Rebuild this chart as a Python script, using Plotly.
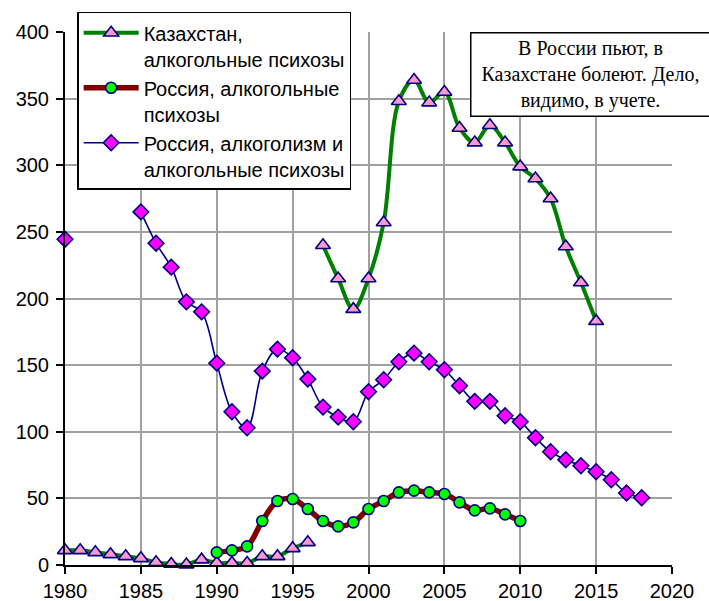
import plotly.graph_objects as go

# Kazakhstan, alcoholic psychoses (two separately reported periods)
kz_early_years = list(range(1980, 1997))
kz_early_vals = [11, 11, 9.5, 8, 6.5, 5, 2, 0.7, 0.3, 4, 1.5, 1.5, 1.5, 6.5, 6.5, 12.5, 17]
kz_late_years = list(range(1997, 2016))
kz_late_vals = [240, 215, 192, 215, 257, 348, 364, 347, 355, 328, 317, 330, 317,
                299, 290, 275, 239, 212, 183]

# Russia, alcoholic psychoses
ru_psy_years = list(range(1990, 2011))
ru_psy_vals = [9.5, 11, 14, 33, 48, 49.5, 42, 33, 29, 32, 42, 48, 54.5, 55.8, 54.5,
               53.3, 47, 41, 42.5, 38, 33]

# Russia, alcoholism and alcoholic psychoses
ru_all_years = list(range(1980, 2019))
ru_all_vals = [244.5, None, None, None, None, 265, 241.5, 223.5, 197.5, 190, 151.5,
               115, 103, 145.5, 162, 155.5, 139.5, 118.5, 111, 107.5, 130, 139, 152.5,
               159, 152.5, 146.5, 134.5, 122.8, 122.8, 112, 107.5, 95.5, 85, 79, 74.5,
               70, 64, 54, 50.5]

legend_names = [
    "Казахстан,<br>алкогольные психозы",
    "Россия, алкогольные<br>психозы",
    "Россия, алкоголизм и<br>алкогольные психозы",
]
note_text = "В России пьют, в<br>Казахстане болеют. Дело,<br>видимо, в учете."

NAVY = "#000080"
SANS = "Liberation Sans, Arial, sans-serif"
SERIF = "Liberation Serif, Times New Roman, serif"

fig = go.Figure()

tri_marker = dict(symbol="triangle-up", size=13, color="#FF99CC",
                  line=dict(color=NAVY, width=1.6))
fig.add_trace(go.Scatter(
    x=kz_early_years, y=kz_early_vals, name=legend_names[0], legendgroup="kz",
    mode="lines+markers", line=dict(color="#008000", width=4, shape="spline"),
    marker=tri_marker, cliponaxis=False))
fig.add_trace(go.Scatter(
    x=kz_late_years, y=kz_late_vals, name=legend_names[0], legendgroup="kz",
    showlegend=False,
    mode="lines+markers", line=dict(color="#008000", width=4, shape="spline"),
    marker=tri_marker, cliponaxis=False))

fig.add_trace(go.Scatter(
    x=ru_psy_years, y=ru_psy_vals, name=legend_names[1],
    mode="lines+markers", line=dict(color="#800000", width=5.5, shape="spline"),
    marker=dict(symbol="circle", size=11, color="#00FF00",
                line=dict(color=NAVY, width=1.6)),
    cliponaxis=False))

fig.add_trace(go.Scatter(
    x=ru_all_years, y=ru_all_vals, name=legend_names[2], connectgaps=False,
    mode="lines+markers", line=dict(color=NAVY, width=1.6, shape="spline"),
    marker=dict(symbol="diamond", size=12, color="#FF00FF",
                line=dict(color=NAVY, width=1.6)),
    cliponaxis=False))

axis_common = dict(
    showgrid=True, gridcolor="#A0A0A0", gridwidth=2,
    showline=True, linecolor="black", linewidth=2,
    ticks="outside", ticklen=7, tickwidth=2, tickcolor="black",
    zeroline=False, tickfont=dict(family=SANS, size=20, color="black"),
)

fig.update_layout(
    width=709, height=601,
    margin=dict(l=65, r=37, t=32, b=36, autoexpand=False),
    paper_bgcolor="white", plot_bgcolor="white",
    xaxis=dict(range=[1980, 2020], tick0=1980, dtick=5, ticklabelstandoff=0,
               **axis_common),
    yaxis=dict(range=[0, 400], tick0=0, dtick=50, ticklabelstandoff=3,
               **axis_common),
    legend=dict(
        x=0.02, y=1.038, xanchor="left", yanchor="top",
        bgcolor="white", bordercolor="black", borderwidth=1.5,
        font=dict(family=SANS, size=20, color="black"),
        itemwidth=55, valign="top", tracegroupgap=0,
    ),
    showlegend=True,
)

fig.add_annotation(
    xref="paper", yref="paper", x=0.865, y=0.92,
    xanchor="center", yanchor="middle",
    text=note_text, showarrow=False, align="center",
    font=dict(family=SERIF, size=20, color="black"),
    bgcolor="white", bordercolor="black", borderwidth=1.5,
    width=236, height=80,
)

fig.write_html("out.html")
